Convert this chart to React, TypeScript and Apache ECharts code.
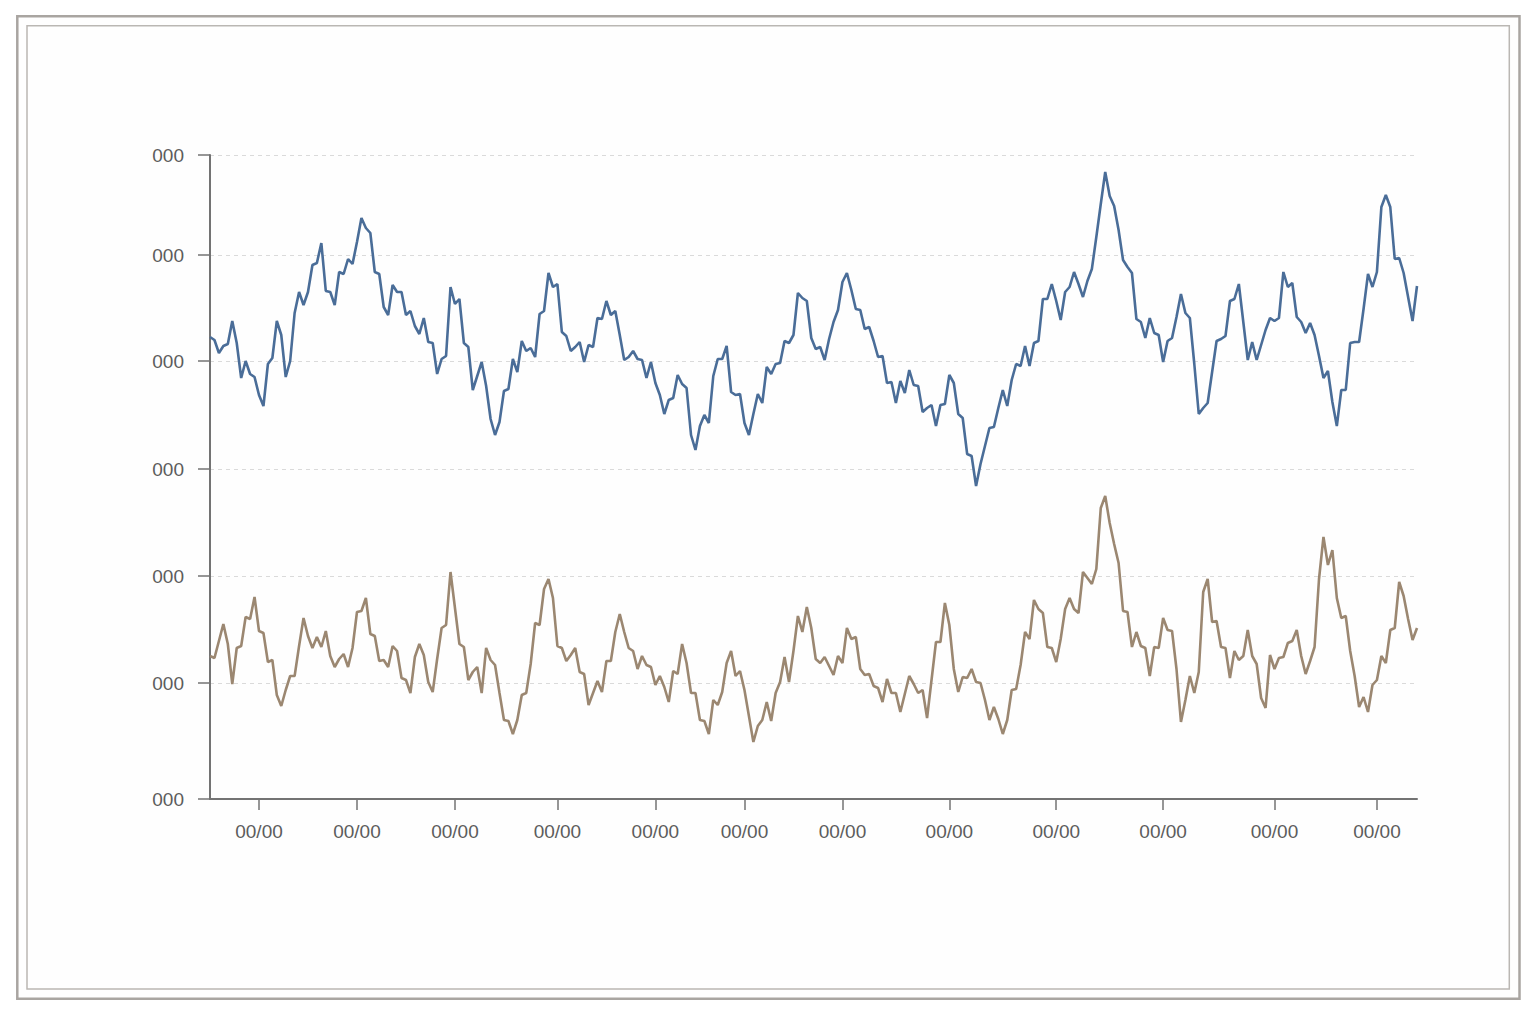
import React, { useEffect, useRef } from "react";
import * as echarts from "echarts";

// Values (arbitrary units; higher = upward)
const blueSeries = [
  // segment 1
  663, 660, 647, 654, 656, 679, 657, 622, 639, 626, 623, 605, 594, 636, 642, 679, 665, 623, 639, 687,
  708, 695, 708, 735, 737, 757, 709, 708, 695, 728, 726, 741, 736, 758, 782, 772, 767, 728, 726, 693,
  685, 715, 708, 708, 685, 689, 674,
  // segment 2
  666, 682, 658, 657, 626, 641, 644, 713, 696, 701, 657, 653, 610, 624, 638, 614, 581, 565, 578, 609,
  611, 641, 628, 659, 649, 652, 643, 686, 689, 727, 713, 716, 668, 664, 649, 653, 658, 638, 655, 653,
  682, 681, 699, 685, 689,
  // segment 3
  665, 640, 643, 649, 641, 640, 622, 638, 617, 605, 586, 600, 602, 625, 616, 612, 565, 550, 574, 585,
  577, 624, 641, 641, 654, 608, 605, 606, 577, 565, 586, 606, 597, 633, 626, 636, 637, 659, 657, 665,
  707, 702, 699, 662, 651,
  // segment 4
  653, 640, 661, 678, 690, 718, 727, 710, 691, 690, 671, 673, 659, 643, 644, 617, 618, 597, 619, 607,
  630, 615, 614, 588, 592, 595, 574, 595, 596, 625, 617, 586, 582, 546, 544, 514, 536, 554, 572, 573,
  592, 610, 594, 620, 636,
  // segment 5
  634, 654, 634, 657, 659, 701, 701, 716, 699, 680, 708, 713, 728, 716, 703, 719, 731, 763, 796, 828,
  804, 794, 770, 740, 733, 727, 681, 678, 662, 682, 667, 665, 638, 659, 662, 683, 706, 687, 682, 636,
  586, 592, 597, 628, 659,
  // segment 6
  661, 664, 699, 701, 716, 678, 640, 658, 640, 655, 670, 682, 679, 682, 728, 713, 717, 683, 678, 667,
  677, 665, 644, 622, 629, 598, 574, 610, 610, 657, 658, 658, 691, 726, 713, 728, 793, 805, 793, 741,
  742, 727, 703, 679, 714,
];

const tanSeries = [
  // segment 1
  344, 342, 359, 376, 356, 316, 352, 354, 383, 381, 403, 369, 367, 338, 340, 305, 294, 310, 324, 324,
  354, 382, 364, 352, 363, 353, 369, 344, 333, 341, 346, 333, 352, 388, 389, 402, 366, 364, 339, 340,
  333, 354, 349, 322, 320, 307, 343,
  // segment 2
  356, 345, 318, 308, 341, 372, 375, 428, 392, 356, 353, 320, 328, 333, 307, 352, 340, 335, 307, 280,
  279, 266, 280, 305, 307, 336, 377, 375, 411, 421, 402, 354, 352, 339, 345, 352, 328, 326, 295, 307,
  319, 308, 339, 339, 368,
  // segment 3
  386, 368, 352, 349, 331, 344, 335, 333, 315, 324, 313, 298, 329, 326, 356, 337, 307, 307, 280, 279,
  266, 300, 295, 308, 337, 349, 324, 329, 310, 284, 258, 274, 280, 298, 279, 307, 318, 343, 318, 349,
  384, 368, 393, 372, 341,
  // segment 4
  337, 343, 334, 325, 344, 337, 372, 361, 363, 331, 325, 326, 314, 312, 298, 321, 307, 307, 288, 306,
  324, 316, 307, 310, 282, 320, 358, 358, 397, 375, 331, 308, 323, 322, 331, 318, 317, 300, 280, 293,
  281, 266, 280, 310, 311,
  // segment 5
  335, 368, 361, 400, 391, 387, 353, 352, 338, 361, 391, 402, 391, 387, 428, 422, 416, 431, 492, 504,
  477, 456, 437, 389, 388, 353, 368, 354, 352, 324, 353, 352, 382, 370, 369, 331, 278, 300, 324, 307,
  328, 408, 421, 378, 379,
  // segment 6
  353, 352, 322, 349, 340, 344, 370, 344, 336, 302, 292, 345, 331, 342, 343, 357, 359, 370, 344, 326,
  339, 353, 421, 463, 435, 450, 402, 382, 384, 349, 324, 293, 303, 288, 315, 320, 344, 337, 370, 372,
  418, 404, 381, 360, 372,
];

const categories = blueSeries.map((_, i) => `d${i + 1}`);
const xTickIndices = [11, 33, 55, 78, 100, 120, 142, 166, 190, 214, 239, 262];
const xTickLabel = "00/00";
const yTickValues = [201, 317, 424, 531, 639, 745, 845];
const yTickLabel = "000";
const yMin = 201;
const yMax = 845;

const AXIS_COLOR = "#737373";
const LABEL_COLOR = "#5c5c5c";
const FONT = "'Liberation Sans', Arial, sans-serif";

export default function App() {
  const ref = useRef<HTMLDivElement>(null);

  useEffect(() => {
    if (!ref.current) return;
    const chart = echarts.init(ref.current, null, { renderer: "svg" });
    const isTick = (i: number) => xTickIndices.includes(i);
    chart.setOption({
      animation: false,
      backgroundColor: "#ffffff",
      graphic: [
        {
          type: "rect",
          silent: true,
          z: -10,
          shape: { x: 17.3, y: 16.2, width: 1502.2, height: 982.6 },
          style: { fill: "#fefefe", stroke: "#a9a5a1", lineWidth: 2.5 },
        },
        {
          type: "rect",
          silent: true,
          z: -9,
          shape: { x: 27, y: 25.7, width: 1482.3, height: 963.3 },
          style: { fill: "none", stroke: "#bab7b3", lineWidth: 1.5 },
        },
      ],
      grid: { left: 210, right: 119, top: 155, bottom: 225, containLabel: false },
      xAxis: {
        type: "category",
        data: categories,
        boundaryGap: false,
        axisLine: { show: true, lineStyle: { color: AXIS_COLOR, width: 2 } },
        axisTick: {
          show: true,
          interval: (i: number) => isTick(i),
          length: 11,
          lineStyle: { color: AXIS_COLOR, width: 1.5 },
        },
        axisLabel: {
          show: true,
          interval: (i: number) => isTick(i),
          formatter: () => xTickLabel,
          color: LABEL_COLOR,
          fontSize: 19,
          fontFamily: FONT,
          margin: 23,
        },
        splitLine: { show: false },
      },
      yAxis: {
        type: "value",
        min: yMin,
        max: yMax,
        axisLine: { show: true, lineStyle: { color: AXIS_COLOR, width: 2 } },
        axisTick: {
          show: true,
          length: 12,
          customValues: yTickValues,
          lineStyle: { color: AXIS_COLOR, width: 1.5 },
        },
        axisLabel: {
          show: true,
          customValues: yTickValues,
          formatter: () => yTickLabel,
          color: LABEL_COLOR,
          fontSize: 19,
          fontFamily: FONT,
          margin: 26,
        },
        splitLine: {
          show: true,
          lineStyle: { color: "#dadada", width: 1, type: [4, 4] },
        },
      },
      series: [
        {
          type: "line",
          data: blueSeries,
          symbol: "none",
          lineStyle: { color: "#4a6d98", width: 2.6 },
          itemStyle: { color: "#4a6d98" },
          z: 3,
        },
        {
          type: "line",
          data: tanSeries,
          symbol: "none",
          lineStyle: { color: "#9b8771", width: 2.6 },
          itemStyle: { color: "#9b8771" },
          z: 3,
        },
      ],
    });
    return () => chart.dispose();
  }, []);

  return (
    <div
      ref={ref}
      style={{ position: "absolute", left: 0, top: 0, width: 1536, height: 1024 }}
    />
  );
}
